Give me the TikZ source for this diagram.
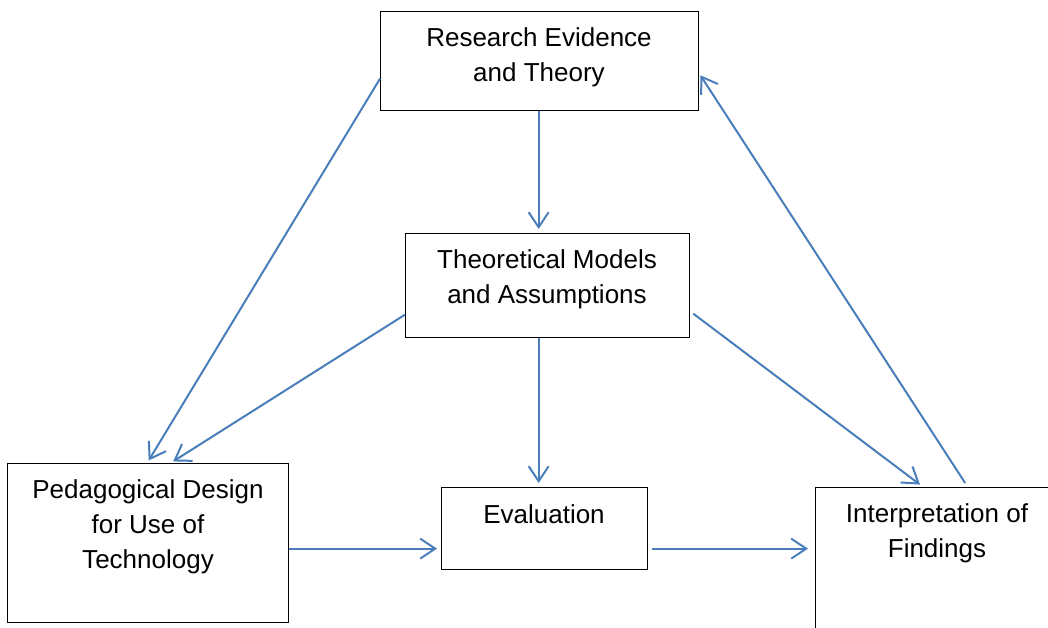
\documentclass[tikz,border=0pt]{standalone}
\usepackage{fontspec}
\setmainfont{Liberation Sans}
\usetikzlibrary{arrows.meta}
\definecolor{arrowblue}{HTML}{4A7EBB}
\begin{document}
\begin{tikzpicture}[x=1pt,y=-1pt,
  box/.style={draw=black,line width=1.3pt,inner sep=0pt,anchor=north west},
  lbl/.style={font=\fontsize{26}{35}\selectfont,align=center,anchor=base,inner sep=0pt},
  conn/.style={draw=arrowblue,line width=2pt,-{Straight Barb[length=15pt,width=20pt,line width=2pt]}}]
\useasboundingbox (0,0) rectangle (1048,628);
\clip (0,0) rectangle (1048,628);
\fill[white] (0,0) rectangle (1048,628);
% boxes
\node[box,minimum width=318pt,minimum height=99pt] (A) at (380,11) {};
\node[box,minimum width=284pt,minimum height=104pt] (B) at (405,233) {};
\node[box,minimum width=281pt,minimum height=159pt] (C) at (7,463) {};
\node[box,minimum width=206pt,minimum height=82pt] (D) at (441,487) {};
\node[box,minimum width=245pt,minimum height=173pt] (E) at (815,487) {};
% texts (anchor = baseline of last line)
\node[lbl] (tA) at (539,82) {Research Evidence\\and Theory};
\node[lbl] (tB) at (547,303) {Theoretical Models\\and Assumptions};
\node[lbl] (tC) at (148,568) {Pedagogical Design\\for Use of\\Technology};
\node[lbl] (tD) at (544,523) {Evaluation};
\node[lbl] (tE) at (937,557) {Interpretation of\\Findings};
% connectors
\coordinate (a1) at ([xshift=-1pt]A.south);
\coordinate (b1) at ([xshift=-9pt]B.north);
\draw[conn,shorten >=4pt] (a1) -- (b1);
\coordinate (a2) at ([yshift=-17.5pt]A.west);
\coordinate (c2) at ([xshift=-1pt]C.north);
\draw[conn,shorten >=3pt] (a2) -- (c2);
\coordinate (b3) at ([yshift=-29pt]B.west);
\coordinate (c3) at ([xshift=22.5pt]C.north);
\draw[conn,shorten >=3pt] (b3) -- (c3);
\coordinate (b4) at ([xshift=-9pt]B.south);
\coordinate (d4) at ([xshift=-6pt]D.north);
\draw[conn,shorten >=4pt] (b4) -- (d4);
\coordinate (b5) at ([yshift=-28pt,xshift=3pt]B.east);
\coordinate (e5) at ([xshift=-15pt]E.north);
\draw[conn,shorten >=4pt] (b5) -- (e5);
\coordinate (e6) at ([xshift=27pt,yshift=4pt]E.north);
\coordinate (a6) at ([yshift=-12.5pt]A.east);
\draw[conn,shorten >=2pt] (e6) -- (a6);
\coordinate (c7) at ([yshift=-5.5pt]C.east);
\coordinate (d7) at ([yshift=-20pt]D.west);
\draw[conn,shorten >=4pt] (c7) -- (d7);
\coordinate (d8) at ([yshift=-20pt,xshift=4pt]D.east);
\coordinate (e8) at ([yshift=25.5pt]E.west);
\draw[conn,shorten >=7pt] (d8) -- (e8);
\end{tikzpicture}
\end{document}
